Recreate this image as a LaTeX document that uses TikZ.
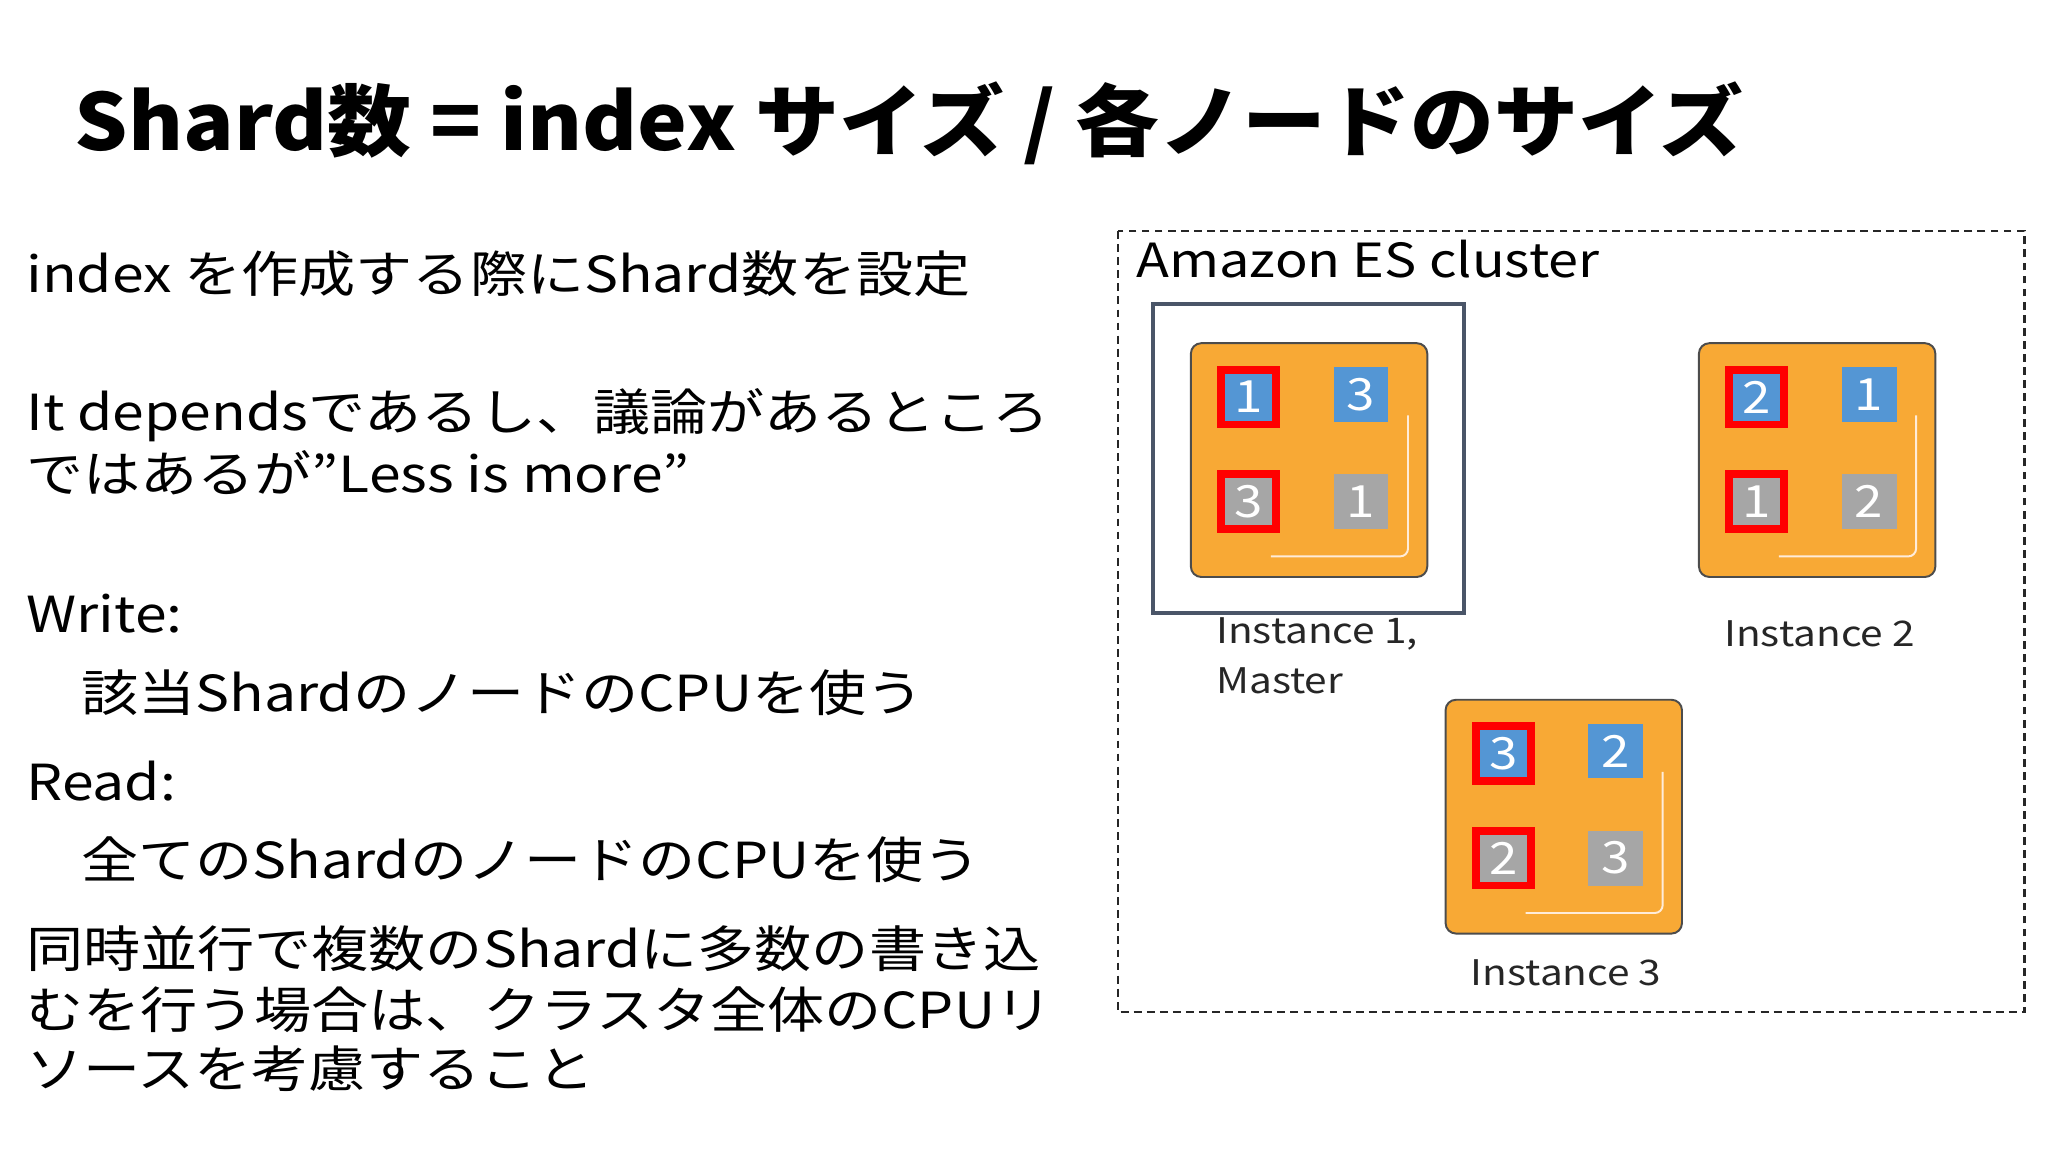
\documentclass[tikz,border=0pt]{standalone}
\usepackage{fontspec}
\setmainfont{Noto Sans CJK JP}[FakeStretch=1.15]
\newfontfamily\titlefont{Noto Sans CJK JP}[FakeStretch=1.07]
\definecolor{slate}{RGB}{74,85,104}
\definecolor{orng}{RGB}{248,169,53}
\definecolor{blu}{RGB}{84,150,212}
\begin{document}
\begin{tikzpicture}[x=1pt,y=-1pt,
  txt/.style={anchor=west,inner sep=0pt,font=\fontsize{38}{46}\selectfont},
  lbl/.style={anchor=west,inner sep=0pt,font=\fontsize{27}{32}\selectfont,text=black!85},
  inst/.style={draw=black!70,line width=1.5pt,fill=orng,rounded corners=8pt,minimum width=181pt,minimum height=179pt,inner sep=0pt},
  sq/.style={minimum size=42pt,inner sep=0pt,text=white,font=\fontsize{34}{34}\selectfont},
  bl/.style={sq,fill=blu},
  gr/.style={sq,fill=black!35},
  rd/.style={draw=red,line width=6pt}]
\useasboundingbox (0,0) rectangle (1568,882);
\node[anchor=base west,inner sep=0pt,font=\titlefont\fontsize{60}{60}\selectfont\bfseries] (title) at (57,115) {Shard数 = index サイズ / 各ノードのサイズ};
\node[txt] (t1) at (20,210) {index を作成する際にShard数を設定};
\node[txt] (t2) at (20,318) {It dependsであるし、議論があるところ};
\node[txt] (t3) at (20,362) {ではあるが”Less is more”};
\node[txt] (t4) at (20,470) {Write:};
\node[txt] (t5) at (62,530) {該当ShardのノードのCPUを使う};
\node[txt] (t6) at (20,598) {Read:};
\node[txt] (t7) at (62,658) {全てのShardのノードのCPUを使う};
\node[txt] (t8) at (20,726) {同時並行で複数のShardに多数の書き込};
\node[txt] (t9) at (20,773) {むを行う場合は、クラスタ全体のCPUリ};
\node[txt] (t10) at (20,818) {ソースを考慮すること};
\draw[dash pattern=on 6pt off 4pt,line width=1.8pt,black!85] (856,177) rectangle (1550,775);
\node[anchor=west,inner sep=0pt,font=\fontsize{36}{40}\selectfont] (cl) at (870,198) {Amazon ES cluster};
\draw[line width=3pt,slate] (883,233) rectangle (1121,469);
\foreach \n/\x/\y/\a/\b/\c/\d in {i1/911/262/1/3/3/1, i2/1300/262/2/1/1/2, i3/1106/535/3/2/2/3}{
  \node[inst,anchor=north west] (\n) at (\x,\y) {};
  \draw[white!85!orange,line width=1.5pt,rounded corners=6pt] (\x+167,\y+56) -- (\x+167,\y+164) -- (\x+62,\y+164);
  \node[bl,rd] (\n a) at (\x+45,\y+42) {\a};
  \node[bl] (\n b) at (\x+131,\y+40) {\b};
  \node[gr,rd] (\n c) at (\x+45,\y+122) {\c};
  \node[gr] (\n d) at (\x+131,\y+122) {\d};
}
\node[lbl] (l1) at (931,485) {Instance 1,};
\node[lbl] (l1b) at (931,521) {Master};
\node[lbl] (l2) at (1320,485) {Instance 2};
\node[lbl] (l3) at (1126,745) {Instance 3};
\end{tikzpicture}
\end{document}
